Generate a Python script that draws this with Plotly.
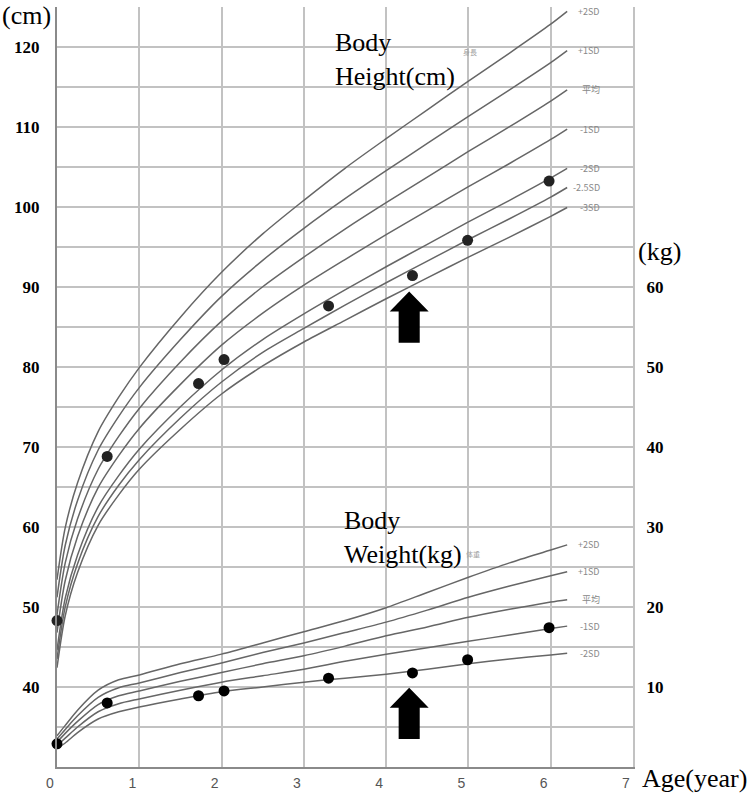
import plotly.graph_objects as go

# ages (years) where the reference curves were read
curve_ages = [0, 0.1, 0.25, 0.5, 0.75, 1, 1.5, 2, 2.5, 3, 3.5, 4, 4.5, 5, 5.5, 6, 6.2]

# body height reference curves (cm)
height_labels = ["+2SD", "+1SD", "平均", "-1SD", "-2SD", "-2.5SD", "-3SD"]
h_p2 = [53.4, 59.9, 65.5, 71.9, 76.2, 79.9, 86.2, 91.8, 96.6, 100.8, 104.8, 108.5, 112.1, 115.7, 119.2, 122.8, 124.4]
h_p1 = [51.2, 57.7, 63.3, 69.6, 73.8, 77.4, 83.4, 88.8, 93.3, 97.3, 101.0, 104.5, 107.9, 111.3, 114.6, 118.0, 119.5]
h_mean = [49.0, 55.5, 61.0, 67.2, 71.3, 74.8, 80.6, 85.7, 90.0, 93.7, 97.2, 100.5, 103.7, 106.9, 110.0, 113.2, 114.6]
h_m1 = [46.8, 53.3, 58.8, 64.9, 68.9, 72.3, 77.8, 82.7, 86.7, 90.2, 93.4, 96.5, 99.5, 102.5, 105.4, 108.4, 109.7]
h_m2 = [44.6, 51.1, 56.5, 62.5, 66.4, 69.7, 75.0, 79.6, 83.4, 86.6, 89.6, 92.5, 95.3, 98.1, 100.8, 103.6, 104.8]
h_m25 = [43.5, 50.0, 55.4, 61.3, 65.2, 68.4, 73.6, 78.1, 81.8, 84.8, 87.7, 90.5, 93.2, 95.9, 98.5, 101.2, 102.4]
h_m3 = [42.4, 48.9, 54.3, 60.2, 64.0, 67.2, 72.2, 76.6, 80.1, 83.1, 85.8, 88.5, 91.1, 93.7, 96.2, 98.8, 99.9]

# body weight reference curves (kg)
weight_labels = ["+2SD", "+1SD", "平均", "-1SD", "-2SD"]
w_p2 = [3.9, 5.2, 7.1, 9.6, 10.9, 11.5, 12.9, 14.1, 15.5, 16.9, 18.3, 19.9, 21.8, 23.7, 25.5, 27.1, 27.75]
w_p1 = [3.5, 4.7, 6.4, 8.7, 9.9, 10.5, 11.8, 13.0, 14.3, 15.5, 16.8, 18.1, 19.6, 21.2, 22.6, 23.9, 24.4]
w_mean = [3.1, 4.2, 5.7, 7.8, 8.9, 9.5, 10.7, 11.8, 12.9, 13.9, 15.1, 16.4, 17.5, 18.7, 19.7, 20.6, 20.9]
w_m1 = [2.7, 3.6, 5.0, 6.9, 7.9, 8.5, 9.6, 10.6, 11.4, 12.2, 13.2, 14.1, 14.9, 15.7, 16.5, 17.3, 17.6]
w_m2 = [2.3, 3.0, 4.3, 6.0, 6.9, 7.5, 8.5, 9.4, 10.0, 10.6, 11.1, 11.6, 12.2, 12.9, 13.5, 14.0, 14.2]

# patient measurements
patient_age = [0, 0.61, 1.72, 2.03, 3.3, 4.32, 4.99, 5.98]
patient_height = [48.3, 68.8, 77.9, 80.9, 87.6, 91.4, 95.8, 103.2]
patient_weight = [2.9, 8.0, 8.9, 9.5, 11.1, 11.75, 13.4, 17.4]

# arrows pointing at the visit of interest
arrow_age = 4.28
arrow_height_tip = 89.4
arrow_weight_tip = 9.9

x_ticks = [0, 1, 2, 3, 4, 5, 6, 7]
cm_ticks = [40, 50, 60, 70, 80, 90, 100, 110, 120]
kg_ticks = [10, 20, 30, 40, 50, 60]

CURVE = "#666666"
GRID = "#c2c2c2"
SERIF = "Liberation Serif, Times New Roman, serif"
SANS = "Liberation Sans, Arial, sans-serif"
SMALL = "Noto Sans CJK JP, Liberation Sans, sans-serif"

fig = go.Figure()

for ys in [h_p2, h_p1, h_mean, h_m1, h_m2, h_m25, h_m3]:
    fig.add_trace(go.Scatter(x=curve_ages, y=ys, mode="lines",
                             line=dict(color=CURVE, width=1.5, shape="spline", smoothing=0.8),
                             showlegend=False, hoverinfo="skip"))

for ys in [w_p2, w_p1, w_mean, w_m1, w_m2]:
    fig.add_trace(go.Scatter(x=curve_ages, y=ys, mode="lines", yaxis="y2",
                             line=dict(color=CURVE, width=1.5, shape="spline", smoothing=0.8),
                             showlegend=False, hoverinfo="skip"))

fig.add_trace(go.Scatter(x=patient_age, y=patient_height, mode="markers",
                         marker=dict(size=11, color="#222"), cliponaxis=False, showlegend=False))
fig.add_trace(go.Scatter(x=patient_age, y=patient_weight, mode="markers", yaxis="y2",
                         marker=dict(size=11, color="#000"), cliponaxis=False, showlegend=False))

# SD labels at curve ends
label_x = 6.62
for name, ys in zip(height_labels, [h_p2, h_p1, h_mean, h_m1, h_m2, h_m25, h_m3]):
    fig.add_annotation(x=label_x, y=ys[-1], text=name, showarrow=False, xanchor="right",
                       font=dict(family=SMALL, size=9, color="#888"))
for name, ys in zip(weight_labels, [w_p2, w_p1, w_mean, w_m1, w_m2]):
    fig.add_annotation(x=label_x, y=ys[-1], yref="y2", text=name, showarrow=False, xanchor="right",
                       font=dict(family=SMALL, size=9, color="#888"))
fig.add_annotation(x=5.02, y=119.3, text="身長", showarrow=False,
                   font=dict(family=SMALL, size=7, color="#a0a0a0"))
fig.add_annotation(x=5.05, y=26.6, yref="y2", text="体重", showarrow=False,
                   font=dict(family=SMALL, size=7, color="#a0a0a0"))

# block titles
fig.add_annotation(x=3.35, y=122.6, text="Body<br>Height(cm)", showarrow=False, align="left",
                   xanchor="left", yanchor="top", font=dict(family=SERIF, size=26, color="#000"))
fig.add_annotation(x=3.46, y=32.8, yref="y2", text="Body<br>Weight(kg)", showarrow=False, align="left",
                   xanchor="left", yanchor="top", font=dict(family=SERIF, size=26, color="#000"))

# axis unit labels
fig.add_annotation(xref="paper", yref="paper", x=-0.099, y=0.989, text="(cm)", showarrow=False,
                   xanchor="left", yanchor="middle", font=dict(family=SERIF, size=26, color="#000"))
fig.add_annotation(xref="paper", yref="paper", x=1.005, y=0.678, text="(kg)", showarrow=False,
                   xanchor="left", yanchor="middle", font=dict(family=SERIF, size=26, color="#000"))
fig.add_annotation(xref="paper", yref="paper", x=1.013, y=-0.0145, text="Age(year)", showarrow=False,
                   xanchor="left", yanchor="middle", font=dict(family=SERIF, size=26, color="#000"))


def arrow_path(xc, tip):
    head_h, total_h = 2.5, 6.4
    head_hw, shaft_hw = 0.237, 0.128
    pts = [(xc, tip), (xc + head_hw, tip - head_h), (xc + shaft_hw, tip - head_h),
           (xc + shaft_hw, tip - total_h), (xc - shaft_hw, tip - total_h),
           (xc - shaft_hw, tip - head_h), (xc - head_hw, tip - head_h)]
    return "M " + " L ".join(f"{x},{y}" for x, y in pts) + " Z"


fig.add_shape(type="path", path=arrow_path(arrow_age, arrow_height_tip), xref="x", yref="y",
              fillcolor="#000", line=dict(width=0))
fig.add_shape(type="path", path=arrow_path(arrow_age, arrow_weight_tip), xref="x", yref="y2",
              fillcolor="#000", line=dict(width=0))

fig.update_layout(
    width=751, height=798, autosize=False,
    margin=dict(l=57, r=118, t=7, b=31),
    plot_bgcolor="white", paper_bgcolor="white",
    showlegend=False,
    xaxis=dict(range=[0, 7], tickvals=x_ticks, showgrid=True, gridcolor=GRID, gridwidth=2,
               zeroline=False, showline=True, linecolor="#8a8a8a", linewidth=2, ticks="",
               ticklabelshift=-7, ticklabelstandoff=2,
               tickfont=dict(family=SANS, size=14, color="#555")),
    yaxis=dict(range=[30, 124.95], tickvals=cm_ticks, showgrid=True, gridcolor=GRID, gridwidth=2,
               minor=dict(dtick=5, tick0=0, showgrid=True, gridcolor=GRID, gridwidth=2),
               zeroline=False, showline=True, linecolor="#8a8a8a", linewidth=2, ticks="",
               ticklabelstandoff=12,
               tickfont=dict(family=SERIF, size=17, color="#000", weight="bold")),
    yaxis2=dict(range=[0, 94.95], overlaying="y", side="right", tickvals=kg_ticks, showgrid=False,
                zeroline=False, showline=True, linecolor=GRID, linewidth=2, ticks="",
                ticklabelstandoff=8,
                tickfont=dict(family=SERIF, size=17, color="#000", weight="bold")),
)

fig.write_html("out.html", config={"displayModeBar": False},
               post_script="document.body.style.margin='0';")
